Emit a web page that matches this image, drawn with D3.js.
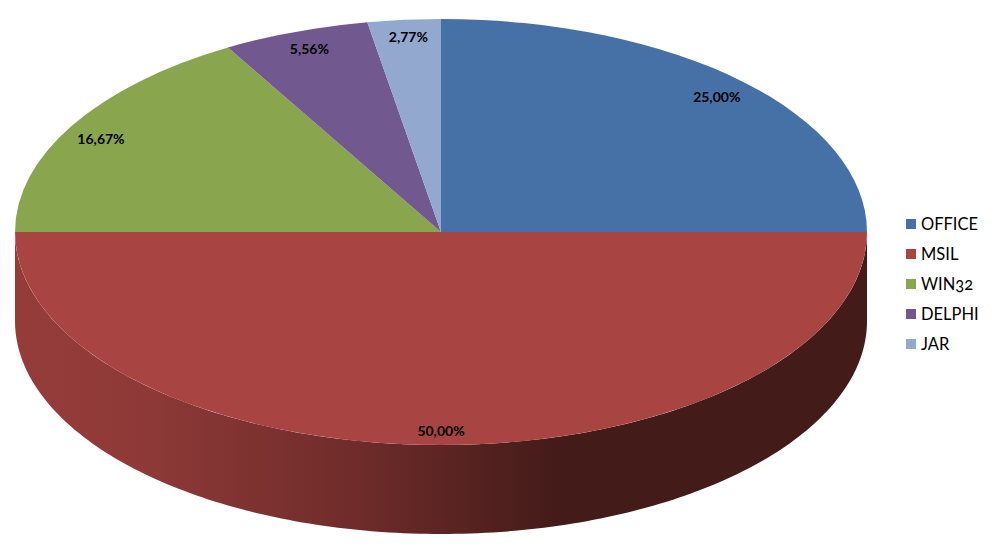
<!DOCTYPE html>
<html>
<head>
<meta charset="utf-8">
<script src="https://cdn.jsdelivr.net/npm/d3@7"></script>
<style>
html, body { margin: 0; padding: 0; background: #fff; }
svg { display: block; }
text { font-family: Lato, "Open Sans", sans-serif; }
.legend-label { font-feature-settings: "onum"; }
</style>
</head>
<body>
<div id="chart"></div>
<script>
var categories = ["OFFICE", "MSIL", "WIN32", "DELPHI", "JAR"];
var values = [25.00, 50.00, 16.67, 5.56, 2.77];
var labels = ["25,00%", "50,00%", "16,67%", "5,56%", "2,77%"];
var colours = ["#4571a7", "#a84442", "#89a54e", "#71588f", "#92a8cf"];

var width = 1002, height = 548;
var cx = 441, cy = 232, rx = 426, ry = 213, depth = 89;

var svg = d3.select("#chart").append("svg")
	.attr("width", width)
	.attr("height", height);

// Side wall gradient, dark on the right
var grad = svg.append("defs").append("linearGradient")
	.attr("id", "side")
	.attr("gradientUnits", "userSpaceOnUse")
	.attr("x1", cx - rx).attr("x2", cx + rx)
	.attr("y1", 0).attr("y2", 0);
grad.append("stop").attr("offset", "0").attr("stop-color", "#953c3a");
grad.append("stop").attr("offset", "0.14").attr("stop-color", "#8f3a38");
grad.append("stop").attr("offset", "0.4").attr("stop-color", "#6f2c2a");
grad.append("stop").attr("offset", "0.64").attr("stop-color", "#431b19");
grad.append("stop").attr("offset", "1").attr("stop-color", "#431b19");

var pie = d3.pie().sort(null).value(d => d)(values);
var arc = d3.arc().innerRadius(0).outerRadius(1);

// scales squash the unit circle into the tilted ellipse
var xScale = d3.scaleLinear().domain([-1, 1]).range([cx - rx, cx + rx]);
var yScale = d3.scaleLinear().domain([-1, 1]).range([cy - ry, cy + ry]);

// Wall follows the front half of the rim: down the left and right edges
var rim = d3.range(Math.PI / 2, Math.PI * 1.5 + 0.001, Math.PI / 180);
var rimX = a => xScale(Math.sin(a));
var rimY = a => yScale(-Math.cos(a));
var wall = d3.path();
rim.forEach((a, i) => {
	if (i === 0) wall.moveTo(rimX(a), rimY(a));
	else wall.lineTo(rimX(a), rimY(a));
});
rim.slice().reverse().forEach(a => wall.lineTo(rimX(a), rimY(a) + depth));
wall.closePath();

svg.append("path")
	.attr("d", wall.toString())
	.attr("fill", "url(#side)");

// Top face
svg.append("g")
	.attr("transform", "translate(" + cx + "," + cy + ") scale(" + rx + "," + ry + ")")
	.selectAll("path")
	.data(pie)
	.join("path")
	.attr("d", arc)
	.attr("fill", (d, i) => colours[i]);

// Data labels, radius and small angle nudge (degrees)
var labelRadius = [0.906, 0.934, 0.91, 0.913, 0.918];
var labelTurn = [0.6, 0, -1.3, 0.2, 0.2];
var labelAngle = (d, i) => (d.startAngle + d.endAngle) / 2 + labelTurn[i] * Math.PI / 180;
svg.append("g")
	.selectAll("text")
	.data(pie)
	.join("text")
	.attr("x", (d, i) => xScale(labelRadius[i] * Math.sin(labelAngle(d, i))))
	.attr("y", (d, i) => yScale(-labelRadius[i] * Math.cos(labelAngle(d, i))) + 5)
	.attr("text-anchor", "middle")
	.attr("font-size", 14)
	.attr("font-weight", 700)
	.attr("fill", "#000")
	.text((d, i) => labels[i]);

// Legend
var legendY = d3.scalePoint().domain(categories).range([224, 344]);
var legend = svg.append("g")
	.selectAll("g")
	.data(categories)
	.join("g")
	.attr("transform", d => "translate(906," + legendY(d) + ")");
legend.append("rect")
	.attr("x", 0).attr("y", -5)
	.attr("width", 10).attr("height", 10)
	.attr("fill", (d, i) => colours[i]);
legend.append("text")
	.attr("class", "legend-label")
	.attr("x", 15).attr("y", 6)
	.attr("font-size", 16.5)
	.attr("fill", "#000")
	.text(d => d);
</script>
</body>
</html>
